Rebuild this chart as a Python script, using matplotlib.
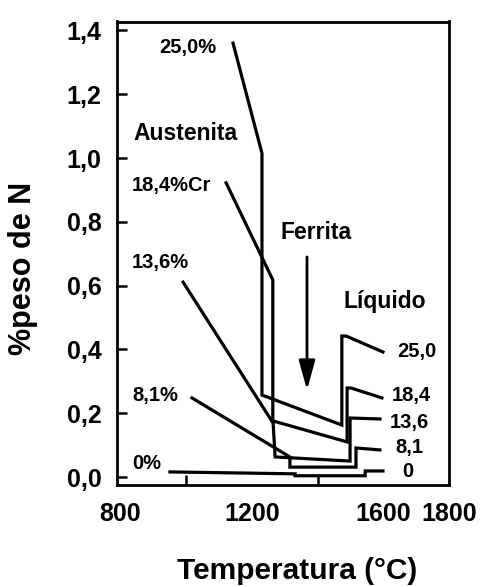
import matplotlib
matplotlib.use("Agg")
import matplotlib.pyplot as plt

plt.rcParams['font.family'] = ['Liberation Sans', 'DejaVu Sans']
plt.rcParams['font.weight'] = 'bold'

# Nitrogen solubility (wt% N) vs temperature for Fe-Cr alloys:
# austenite branch, drop to ferrite, ferrite branch, jump at melting, liquid
temp_25 = [1143, 1231, 1231, 1474, 1474, 1487, 1599]
n_25 = [1.36, 1.015, 0.257, 0.163, 0.442, 0.442, 0.392]

temp_18 = [1122, 1264, 1264, 1490, 1490, 1502, 1596]
n_18 = [0.922, 0.618, 0.176, 0.110, 0.279, 0.279, 0.248]

temp_13 = [991, 1265, 1271, 1499, 1499, 1590]
n_13 = [0.611, 0.169, 0.063, 0.050, 0.185, 0.182]

temp_8 = [1018, 1316, 1316, 1517, 1517, 1590]
n_8 = [0.248, 0.063, 0.031, 0.031, 0.091, 0.085]

temp_0 = [951, 1332, 1332, 1545, 1545, 1599]
n_0 = [0.016, 0.010, 0.004, 0.004, 0.019, 0.019]

left_labels = ['25,0%', '18,4%Cr', '13,6%', '8,1%', '0%']
left_label_pos = [(918, 1.345), (836, 0.915), (836, 0.674), (836, 0.257), (836, 0.041)]
right_labels = ['25,0', '18,4', '13,6', '8,1', '0']
right_label_pos = [(1642, 0.392), (1627, 0.257), (1621, 0.172), (1636, 0.091), (1657, 0.016)]

y_ticks = [0.0, 0.2, 0.4, 0.6, 0.8, 1.0, 1.2, 1.4]
x_label_ticks = [800, 1200, 1600, 1800]
x_minor_ticks = [1000, 1200, 1400, 1600]

fig = plt.figure(figsize=(4.91, 5.87), dpi=100)
ax = fig.add_axes([117 / 491, 1 - 485 / 587, 332 / 491, 463.5 / 587])

for t, n in [(temp_25, n_25), (temp_18, n_18), (temp_13, n_13),
             (temp_8, n_8), (temp_0, n_0)]:
    ax.plot(t, n, color='black', linewidth=2.3, solid_joinstyle='miter')

for txt, (x, y) in zip(left_labels, left_label_pos):
    ax.text(x, y, txt, fontsize=14.5, fontweight='bold', ha='left', va='center')
for txt, (x, y) in zip(right_labels, right_label_pos):
    ax.text(x, y, txt, fontsize=14.5, fontweight='bold', ha='left', va='center')

# phase region names
ax.text(839, 1.078, 'Austenita', fontsize=16.5, fontweight='bold', ha='left', va='center')
ax.text(1286, 0.768, 'Ferrita', fontsize=16.5, fontweight='bold', ha='left', va='center')
ax.text(1478, 0.549, 'Líquido', fontsize=16.5, fontweight='bold', ha='left', va='center')

ax.annotate('', xy=(1368, 0.273), xytext=(1368, 0.690),
            arrowprops=dict(arrowstyle='-|>,head_length=0.9,head_width=0.25',
                            color='black', lw=2, mutation_scale=20,
                            shrinkA=0, shrinkB=0))

ax.set_xlim(790, 1800)
ax.set_ylim(-0.025, 1.428)

ax.set_yticks(y_ticks)
ax.set_yticklabels([f'{v:.1f}'.replace('.', ',') for v in y_ticks])
ax.tick_params(axis='y', direction='in', length=7, width=1.8, pad=11,
               labelsize=18)

ax.set_xticks(x_label_ticks)
ax.set_xticklabels([str(v) for v in x_label_ticks])
ax.set_xticks(x_minor_ticks, minor=True)
ax.tick_params(axis='x', which='major', length=0, pad=12, labelsize=18)
ax.tick_params(axis='x', which='minor', direction='in', length=7, width=1.8)

for s in ax.spines.values():
    s.set_linewidth(2)

ax.set_xlabel('Temperatura (°C)', fontsize=21.5, fontweight='bold', va='center')
ax.xaxis.set_label_coords(0.542, -0.186)
ax.set_ylabel('%peso de N', fontsize=22, fontweight='bold', va='center')
ax.yaxis.set_label_coords(-0.283, 0.468)

fig.savefig('out.png', dpi=100)
